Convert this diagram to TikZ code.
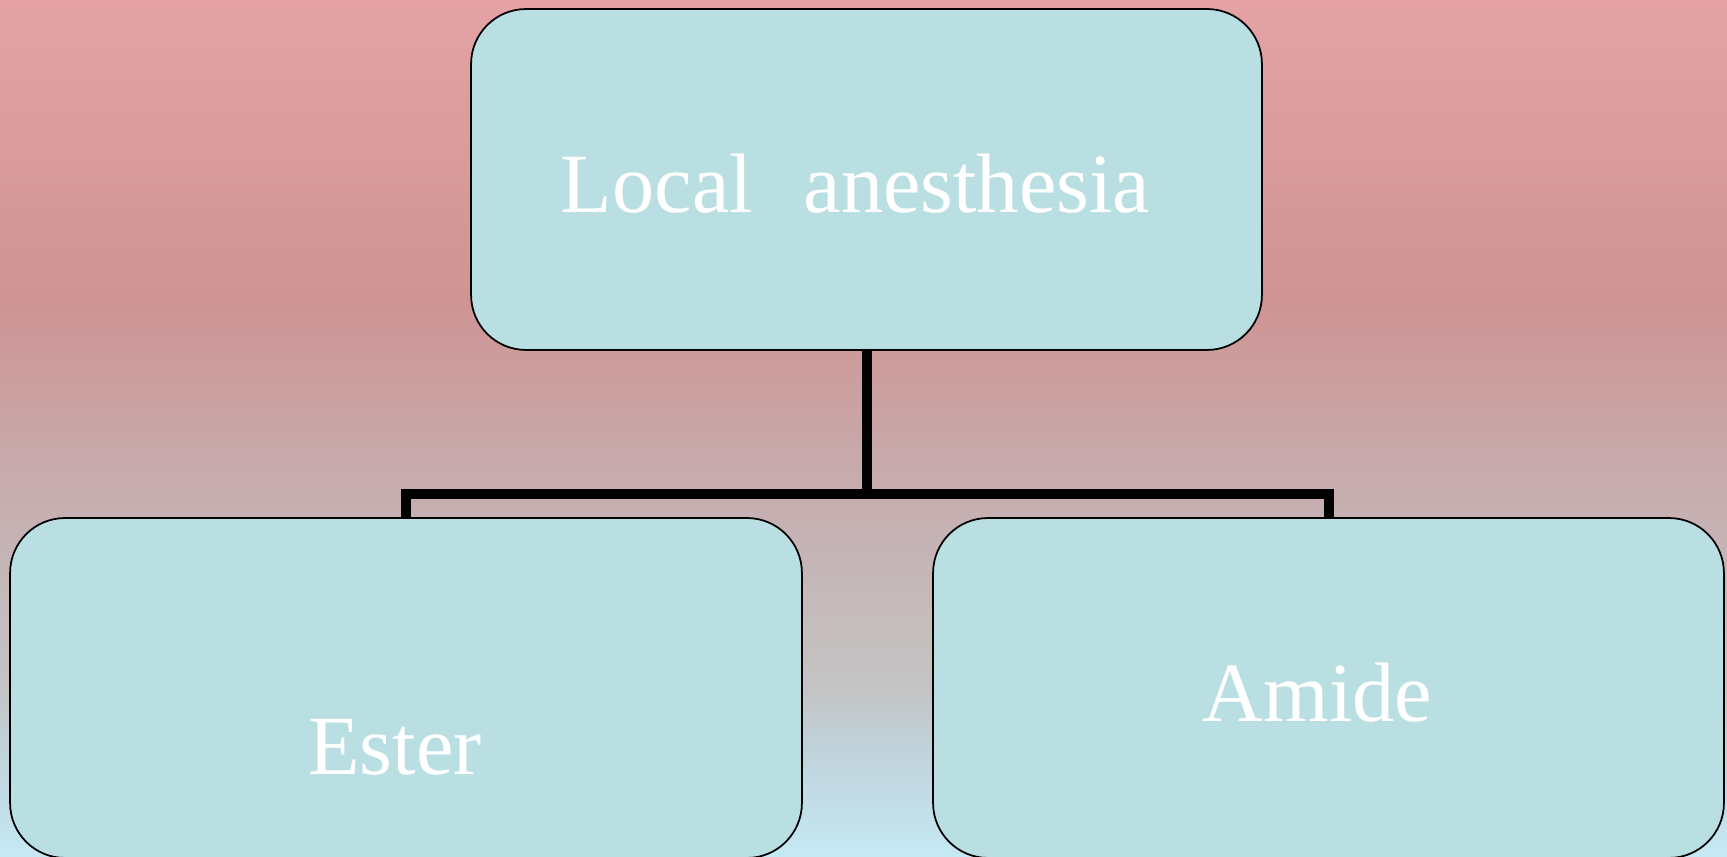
\documentclass[tikz,border=0pt]{standalone}
\usepackage{fontspec}
\setmainfont{Liberation Serif}
\usepackage{xcolor}
\usepackage{tikz}
\usetikzlibrary{positioning,calc}

\definecolor{bgA}{RGB}{228,162,164}
\definecolor{bgB}{RGB}{207,148,148}
\definecolor{bgC}{RGB}{198,174,176}
\definecolor{bgD}{RGB}{196,196,196}
\definecolor{bgE}{RGB}{192,208,216}
\definecolor{bgF}{RGB}{197,233,244}
\definecolor{boxfill}{RGB}{186,223,226}

\begin{document}
\begin{tikzpicture}[x=0.02cm, y=-0.02cm,
  box/.style={draw=black, line width=1pt, fill=boxfill, rounded corners=1.1cm,
    text=white, font=\fontsize{48}{58}\selectfont,
    text height=1.34cm, text depth=0pt, inner sep=0pt,
    execute at begin node=\kern-0.44cm},
  conn/.style={draw=black, line width=0.2cm}]
  \useasboundingbox (0,0) rectangle (1727,857);

  % background
  \shade[top color=bgA, bottom color=bgB] (0,0) rectangle (1727,300);
  \shade[top color=bgB, bottom color=bgC] (0,299.5) rectangle (1727,500);
  \shade[top color=bgC, bottom color=bgD] (0,499.5) rectangle (1727,690);
  \shade[top color=bgD, bottom color=bgE] (0,689.5) rectangle (1727,740);
  \shade[top color=bgE, bottom color=bgF] (0,739.5) rectangle (1727,857);

  \node[box, minimum width=15.82cm, minimum height=6.82cm] (LA) at (866.5,179.5) {Local\hspace{0.6em}anesthesia};
  \node[box, minimum width=15.84cm, minimum height=6.8cm, text height=3.48cm] (Ester) at (406,688) {Ester};
  \node[box, minimum width=15.82cm, minimum height=6.8cm] (Amide) at (1328.5,688) {Amide};

  \coordinate (split) at (866.5,494);
  \draw[conn] (LA.south) -- (split);
  \draw[conn] (Ester.north) |- (split) -| (Amide.north);
\end{tikzpicture}
\end{document}
